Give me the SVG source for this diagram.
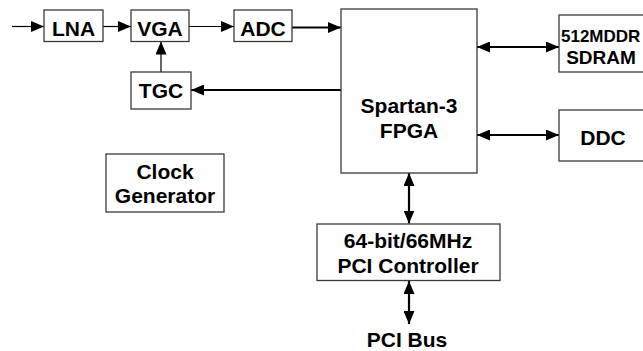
<svg xmlns="http://www.w3.org/2000/svg" width="643" height="351" viewBox="0 0 643 351">
<style>
.box{fill:#fff;stroke:#3a3a3a;stroke-width:1.3}
.t{font-family:"Liberation Sans",Arial,sans-serif;font-weight:bold;font-size:21px;fill:#000;text-anchor:middle}
.thin{stroke:#000;stroke-width:1.2;fill:none}
.thick{stroke:#000;stroke-width:2.2;fill:none}
</style>
<defs>
<marker id="ah" markerUnits="userSpaceOnUse" markerWidth="13" markerHeight="11" refX="13" refY="5.5" orient="auto-start-reverse">
<path d="M0,0 L13,5.5 L0,11 z" fill="#000"/>
</marker>
</defs>
<rect width="643" height="351" fill="#fff"/>
<g id="connectors">
<line class="thin" x1="12" y1="26.5" x2="44" y2="26.5" marker-end="url(#ah)"/>
<line class="thin" x1="103" y1="26.5" x2="131" y2="26.5" marker-end="url(#ah)"/>
<line class="thin" x1="189" y1="26.5" x2="234" y2="26.5" marker-end="url(#ah)"/>
<line class="thick" x1="292" y1="27.5" x2="341" y2="27.5" marker-end="url(#ah)"/>
<line class="thin" x1="161" y1="72" x2="161" y2="41.5" marker-end="url(#ah)"/>
<line class="thick" x1="341" y1="90" x2="191" y2="90" marker-end="url(#ah)"/>
<line class="thick" x1="477" y1="47" x2="559" y2="47" marker-start="url(#ah)" marker-end="url(#ah)"/>
<line class="thick" x1="477" y1="135" x2="559" y2="135" marker-start="url(#ah)" marker-end="url(#ah)"/>
<line class="thick" x1="409" y1="173" x2="409" y2="223.5" marker-start="url(#ah)" marker-end="url(#ah)"/>
<line class="thick" x1="409" y1="281" x2="409" y2="324" marker-start="url(#ah)" marker-end="url(#ah)"/>
</g>
<g id="lna"><rect class="box" x="44" y="10" width="59" height="31.5"/><text class="t" x="73.5" y="35.5">LNA</text></g>
<g id="vga"><rect class="box" x="131" y="10" width="58" height="31.5"/><text class="t" x="160" y="35.5">VGA</text></g>
<g id="adc"><rect class="box" x="234" y="10" width="58" height="31.5"/><text class="t" x="263" y="35.5">ADC</text></g>
<g id="tgc"><rect class="box" x="131" y="72" width="60" height="37"/><text class="t" x="161" y="98">TGC</text></g>
<g id="fpga"><rect class="box" x="341" y="9" width="136" height="164"/><text class="t" x="409" y="112.5">Spartan-3</text><text class="t" x="409" y="137.5">FPGA</text></g>
<g id="sdram"><rect class="box" x="559" y="15" width="92" height="57"/><text class="t" x="561" y="41.5" style="font-size:17px;text-anchor:start">512MDDR</text><text class="t" x="601" y="64" style="font-size:19px">SDRAM</text></g>
<g id="ddc"><rect class="box" x="559" y="110" width="92" height="51"/><text class="t" x="603" y="145">DDC</text></g>
<g id="clock"><rect class="box" x="106" y="154" width="118" height="58"/><text class="t" x="165" y="178.5">Clock</text><text class="t" x="165" y="203">Generator</text></g>
<g id="pci"><rect class="box" x="317" y="224" width="183" height="56.5"/><text class="t" x="408" y="248">64-bit/66MHz</text><text class="t" x="408" y="272.5">PCI Controller</text></g>
<g id="pcibus"><text class="t" x="407" y="347">PCI Bus</text></g>
</svg>
